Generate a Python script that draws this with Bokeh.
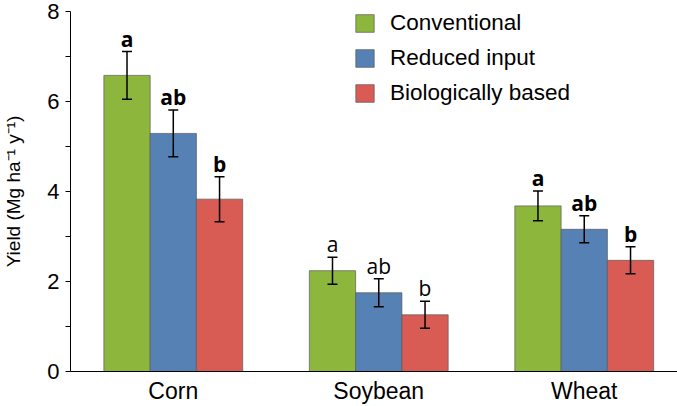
from bokeh.plotting import figure
from bokeh.models import (ColumnDataSource, Whisker, TeeHead, FixedTicker, Range1d,
                          Legend, LegendItem)
from bokeh.core.properties import value
from bokeh.embed import file_html
from bokeh.resources import INLINE

categories = ["Corn", "Soybean", "Wheat"]
series_names = ["Conventional", "Reduced input", "Biologically based"]
conventional = [6.58, 2.24, 3.68]
reduced = [5.29, 1.75, 3.16]
biological = [3.83, 1.26, 2.47]
conventional_err = [0.53, 0.30, 0.33]
reduced_err = [0.52, 0.31, 0.30]
biological_err = [0.50, 0.30, 0.30]
letters_conventional = ["a", "a", "a"]
letters_reduced = ["ab", "ab", "ab"]
letters_biological = ["b", "b", "b"]
bold_letters = [True, False, True]
y_ticks = [0, 2, 4, 6, 8]
y_minor_ticks = [1, 3, 5, 7]

colors = ["#8DB73C", "#5581B5", "#D85B54"]
bar_w = 0.2252
offsets = [-bar_w, 0.0, bar_w]

p = figure(width=677, height=406, output_backend="svg", toolbar_location=None,
           x_range=Range1d(-0.5002, 2.4538), y_range=Range1d(0, 8),
           min_border_left=67, min_border_right=0, min_border_top=11, min_border_bottom=0)
p.outline_line_color = None
p.xgrid.grid_line_color = None
p.ygrid.grid_line_color = None

values = [conventional, reduced, biological]
errors = [conventional_err, reduced_err, biological_err]
letters = [letters_conventional, letters_reduced, letters_biological]

items = []
for i, name in enumerate(series_names):
    xs = [k + offsets[i] for k in range(len(categories))]
    src = ColumnDataSource(dict(
        x=xs, top=values[i],
        upper=[v + e for v, e in zip(values[i], errors[i])],
        lower=[v - e for v, e in zip(values[i], errors[i])],
        label=letters[i]))
    r = p.vbar(x="x", top="top", width=bar_w, bottom=0, source=src,
               fill_color=colors[i], line_color="#5a5a5a", line_width=1, line_alpha=0.7)
    items.append(LegendItem(label=name, renderers=[r]))
    w = Whisker(base="x", upper="upper", lower="lower", source=src, level="overlay",
                line_color="black", line_width=1.5,
                upper_head=TeeHead(size=10, line_width=1.5, line_color="black"),
                lower_head=TeeHead(size=10, line_width=1.5, line_color="black"))
    p.add_layout(w)
    for bold in (True, False):
        idx = [k for k in range(len(categories)) if bold_letters[k] == bold]
        tsrc = ColumnDataSource(dict(
            x=[xs[k] for k in idx],
            y=[values[i][k] + errors[i][k] for k in idx],
            t=[letters[i][k] for k in idx]))
        p.text(x="x", y="y", text="t", source=tsrc, text_align="center",
               text_baseline="alphabetic", y_offset=-13,
               text_font=value("Open Sans"), text_font_size="21px",
               text_font_style="bold" if bold else "normal", text_color="black")

legend = Legend(items=items, location=(283, 265))
legend.background_fill_alpha = 0
legend.border_line_alpha = 0
legend.padding = 0
legend.margin = 0
legend.spacing = 9
legend.glyph_width = 23
legend.glyph_height = 22
legend.label_height = 22
legend.label_standoff = 14
legend.label_text_font = "Liberation Sans"
legend.label_text_font_size = "22.5px"
legend.label_text_color = "black"
p.add_layout(legend)

# y axis
p.yaxis.ticker = FixedTicker(ticks=y_ticks, minor_ticks=y_minor_ticks)
p.yaxis.major_tick_in = 0
p.yaxis.major_tick_out = 5
p.yaxis.minor_tick_in = 0
p.yaxis.minor_tick_out = 5
p.yaxis.major_label_standoff = 6
p.yaxis.major_label_text_font = "Liberation Sans"
p.yaxis.major_label_text_font_size = "22px"
p.yaxis.major_label_text_color = "black"
p.yaxis.axis_label = "Yield (Mg ha\u207b\u00b9 y\u207b\u00b9)"
p.yaxis.axis_label_text_font = "Liberation Sans"
p.yaxis.axis_label_text_font_size = "19px"
p.yaxis.axis_label_text_font_style = "normal"
p.yaxis.axis_label_text_color = "black"
p.yaxis.axis_label_standoff = 20
p.yaxis.axis_line_color = "black"
p.yaxis.major_tick_line_color = "black"
p.yaxis.minor_tick_line_color = "black"

# x axis
p.xaxis.ticker = FixedTicker(ticks=list(range(len(categories))), minor_ticks=[])
p.xaxis.major_label_overrides = {k: c for k, c in enumerate(categories)}
p.xaxis.major_tick_in = 0
p.xaxis.major_tick_out = 0
p.xaxis.major_tick_line_color = None
p.xaxis.major_label_standoff = 6
p.xaxis.major_label_text_font = "Liberation Sans"
p.xaxis.major_label_text_font_size = "23px"
p.xaxis.major_label_text_color = "black"
p.xaxis.axis_line_color = "black"

open("out.html", "w").write(file_html(p, INLINE))
